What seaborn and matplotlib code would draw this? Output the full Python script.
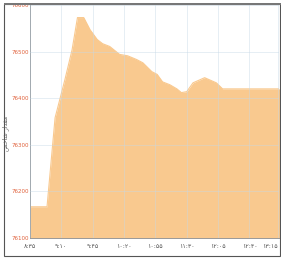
import matplotlib
matplotlib.use("Agg")
import matplotlib.pyplot as plt
import matplotlib.patches as mpatches
import pandas as pd
import seaborn as sns

# minutes since midnight, index value
minutes = [515, 534, 543, 554, 562, 568, 575, 582, 590, 596, 604, 615, 624, 634,
           641, 651, 657, 663, 671, 679, 684, 690, 697, 710, 723, 730, 794]
values = [76167, 76167, 76358, 76440, 76504, 76573, 76573, 76547, 76526, 76517,
          76511, 76494, 76491, 76483, 76476, 76457, 76451, 76435, 76429, 76420,
          76412, 76414, 76433, 76444, 76433, 76420, 76420]

xtick_pos = [515, 550, 585, 620, 655, 690, 725, 760, 792]
xtick_labels = ["۸:۳۵", "۹:۱۰", "۹:۴۵", "۱۰:۲۰", "۱۰:۵۵", "۱۱:۳۰", "۱۲:۰۵", "۱۲:۴۰", "۱۳:۱۵"]
ytick_pos = [76100, 76200, 76300, 76400, 76500, 76600]
# "مقدار شاخص" in presentation forms, visual order
ylabel = "ﺺﺧﺎﺷ ﺭﺍﺪﻘﻣ"

df = pd.DataFrame({"t": minutes, "v": values})

sns.set_style("white")
plt.rcParams["font.family"] = ["DejaVu Sans"]

fig = plt.figure(figsize=(2.81, 2.61), dpi=100)
ax = fig.add_axes([30 / 281, 23 / 261, 249 / 281, 233 / 261])

fill = "#f9c98f"
ax.fill_between(df["t"], df["v"], 76100, color=fill, lw=0, zorder=1)
sns.lineplot(data=df, x="t", y="v", color=fill, lw=0.8, ax=ax, zorder=2)

ax.set_xlim(515, 793)
ax.set_ylim(76100, 76600)
ax.set_xticks(xtick_pos)
ax.set_xticklabels(xtick_labels)
ax.get_xticklabels()[-1].set_horizontalalignment("right")
ax.set_yticks(ytick_pos)
ax.set_yticklabels([str(v) for v in ytick_pos])
ax.tick_params(axis="y", labelsize=4, colors="#e0603a", length=0, pad=1)
ax.tick_params(axis="x", labelsize=4.5, colors="#555555", length=0, pad=4)
ax.grid(True, color="#c5d8e6", lw=0.5, alpha=0.6, zorder=3)
ax.set_axisbelow(False)
ax.set_xlabel("")
ax.set_ylabel(ylabel, fontsize=4.5, color="#666666")
ax.yaxis.set_label_coords(-0.085, 0.45)

for side in ["top", "right"]:
    ax.spines[side].set_visible(False)
ax.spines["left"].set_color("#888888")
ax.spines["left"].set_linewidth(0.7)
ax.spines["bottom"].set_color("#999999")
ax.spines["bottom"].set_linewidth(0.7)

# outer frame
fig.patches.append(mpatches.Rectangle((4 / 281, 5 / 261), 276 / 281, 252 / 261,
                                      transform=fig.transFigure, fill=False,
                                      edgecolor="#555555", lw=0.8))
fig.patches.append(mpatches.Rectangle((4 / 281, 256 / 261), 277 / 281, 2 / 261,
                                      transform=fig.transFigure, color="#777777", lw=0))

fig.savefig("out.png", dpi=100)
